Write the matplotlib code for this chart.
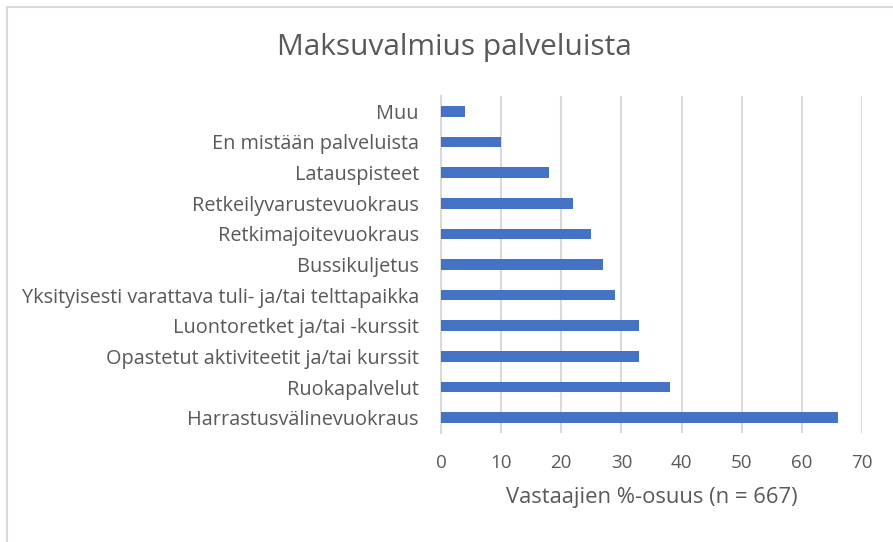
import matplotlib
matplotlib.use("Agg")
import matplotlib.pyplot as plt
from matplotlib.lines import Line2D

categories = ["Muu", "En mistään palveluista", "Latauspisteet", "Retkeilyvarustevuokraus",
              "Retkimajoitevuokraus", "Bussikuljetus",
              "Yksityisesti varattava tuli- ja/tai telttapaikka", "Luontoretket ja/tai -kurssit",
              "Opastetut aktiviteetit ja/tai kurssit", "Ruokapalvelut", "Harrastusvälinevuokraus"]
values = [4, 10, 18, 22, 25, 27, 29, 33, 33, 38, 66]
xticks = [0, 10, 20, 30, 40, 50, 60, 70]
title = "Maksuvalmius palveluista"
xlabel = "Vastaajien %-osuus (n = 667)"

W, H = 893, 542
fig = plt.figure(figsize=(W/100, H/100), dpi=100)
plt.rcParams['font.family'] = ['Open Sans', 'DejaVu Sans']
ax = fig.add_axes([441/W, 1-433/H, (862-441)/W, (433-96)/H])

ypos = list(range(len(categories)))
ax.barh(ypos, values, height=0.35, color="#4472c4", zorder=3)
ax.set_ylim(len(categories)-0.5, -0.5)
ax.set_xlim(0, 70)
ax.set_xticks(xticks)
ax.set_xticklabels([str(t) for t in xticks], fontsize=13.5, color="#595959")
ax.set_yticks(ypos)
ax.set_yticklabels(categories, fontsize=14.3, color="#595959")
ax.tick_params(axis='both', length=0)
ax.tick_params(axis='x', pad=15)
ax.tick_params(axis='y', pad=16)
ax.grid(axis='x', color="#d9d9d9", linewidth=1.5, zorder=0)
for s in ["top", "right", "bottom"]:
    ax.spines[s].set_visible(False)
ax.spines["left"].set_color("#d9d9d9")
ax.spines["left"].set_linewidth(1.5)
ax.set_xlabel(xlabel, fontsize=15.8, color="#595959", labelpad=11)

fig.text(454/W, 1-48/H, title, ha="center", va="center", fontsize=21.5, color="#595959")

fig.add_artist(Line2D([7/W, 7/W], [0, 1-7/H], color="#d9d9d9", linewidth=1.5))
fig.add_artist(Line2D([7/W, 1], [1-7/H, 1-7/H], color="#d9d9d9", linewidth=1.5))

fig.savefig("out.png", dpi=100)
